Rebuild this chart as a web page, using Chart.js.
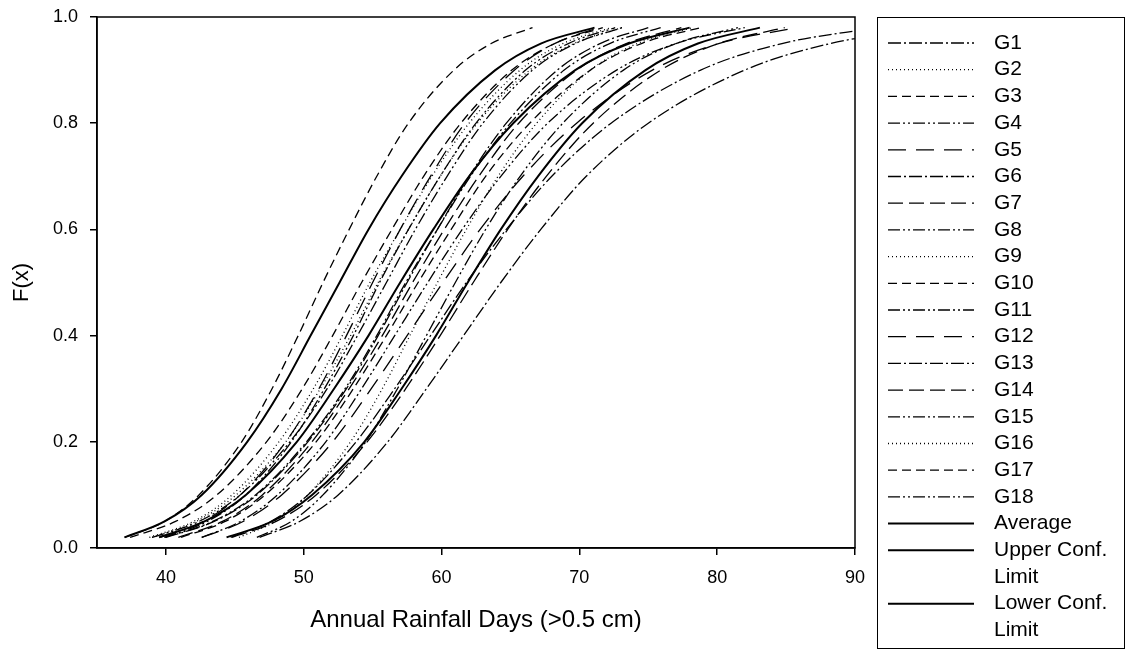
<!DOCTYPE html>
<html>
<head>
<meta charset="utf-8">
<script src="https://cdn.jsdelivr.net/npm/chart.js@4.4.1/dist/chart.umd.min.js"></script>
<style>
  body { margin: 0; background: #fff; }
  #wrap { width: 1126px; height: 652px; }
</style>
</head>
<body>
<div id="wrap"><canvas id="cdfChart"></canvas></div>
<script>
// F(x) levels, shared by every curve
const fLevels = [0.02, 0.05, 0.1, 0.2, 0.3, 0.4, 0.5, 0.6, 0.7, 0.8, 0.9, 0.95, 0.98];

// annual rainfall days at the F(x) levels above
const g1X  = [46.8, 49.7, 52.5, 56.1, 58.9, 61.6, 64.3, 67.2, 70.5, 75.0, 82.0, 88.2, 95.6];
const g2X  = [38.8, 42.0, 44.8, 48.2, 50.7, 52.8, 54.8, 57.0, 59.3, 62.0, 65.7, 68.8, 72.3];
const g3X  = [37.4, 40.7, 43.7, 47.3, 49.9, 52.1, 54.2, 56.4, 58.7, 61.4, 65.1, 68.2, 71.7];
const g4X  = [42.6, 45.4, 48.1, 51.6, 54.2, 56.6, 59.0, 61.5, 64.3, 67.7, 72.7, 77.0, 82.0];
const g5X  = [42.6, 45.6, 48.4, 52.1, 54.9, 57.5, 60.1, 62.8, 65.9, 69.8, 75.3, 80.1, 85.8];
const g6X  = [40.0, 43.5, 46.6, 50.3, 53.1, 55.4, 57.5, 59.7, 62.0, 64.7, 68.4, 71.5, 75.0];
const g7X  = [40.9, 44.1, 47.0, 50.6, 53.3, 55.7, 57.9, 60.2, 62.7, 65.6, 69.8, 73.4, 77.4];
const g8X  = [39.0, 42.4, 45.4, 49.0, 51.7, 53.9, 56.0, 58.1, 60.4, 63.0, 66.6, 69.7, 73.1];
const g9X  = [39.0, 42.2, 45.1, 48.7, 51.2, 53.4, 55.4, 57.6, 59.9, 62.6, 66.4, 69.6, 73.1];
const g10X = [41.1, 44.3, 47.2, 50.9, 53.6, 56.0, 58.3, 60.7, 63.2, 66.4, 70.8, 74.5, 78.8];
const g11X = [39.9, 43.4, 46.5, 50.2, 53.0, 55.3, 57.4, 59.7, 62.1, 65.0, 68.9, 72.2, 75.9];
const g12X = [39.6, 42.7, 45.4, 48.7, 51.1, 53.1, 55.0, 57.0, 59.2, 61.7, 65.3, 68.2, 71.4];
const g13X = [44.7, 47.6, 50.3, 53.8, 56.6, 59.2, 61.8, 64.7, 68.0, 72.3, 78.8, 84.7, 91.6];
const g14X = [44.8, 48.0, 50.9, 54.6, 57.4, 59.9, 62.3, 64.8, 67.6, 71.0, 75.9, 80.1, 84.9];
const g15X = [39.9, 43.0, 45.8, 49.1, 51.5, 53.6, 55.5, 57.6, 59.9, 62.5, 66.1, 69.2, 72.6];
const g16X = [45.3, 47.9, 50.3, 53.4, 55.7, 57.7, 59.7, 61.8, 64.1, 66.9, 70.8, 74.2, 78.2];
const g17X = [37.0, 39.9, 42.4, 45.5, 47.7, 49.6, 51.4, 53.3, 55.3, 57.6, 60.9, 63.6, 66.6];
const g18X = [46.6, 49.1, 51.4, 54.5, 56.8, 58.9, 61.0, 63.2, 65.7, 68.8, 73.2, 77.0, 81.5];
const averageX = [39.5, 42.8, 45.8, 49.5, 52.2, 54.7, 57.0, 59.4, 62.0, 65.2, 69.7, 73.6, 78.0];
const upperX   = [37.0, 39.9, 42.6, 45.9, 48.4, 50.5, 52.6, 54.7, 57.1, 59.9, 63.9, 67.2, 71.1];
const lowerX   = [44.4, 47.7, 50.6, 54.4, 57.1, 59.6, 61.9, 64.3, 67.0, 70.2, 74.8, 78.6, 83.1];

const seriesLabels = ["G1", "G2", "G3", "G4", "G5", "G6", "G7", "G8", "G9", "G10",
  "G11", "G12", "G13", "G14", "G15", "G16", "G17", "G18",
  "Average", ["Upper Conf.", "Limit"], ["Lower Conf.", "Limit"]];
const seriesX = [g1X, g2X, g3X, g4X, g5X, g6X, g7X, g8X, g9X, g10X, g11X, g12X,
  g13X, g14X, g15X, g16X, g17X, g18X, averageX, upperX, lowerX];

const xTicks = [40, 50, 60, 70, 80, 90];
const yTicks = [0.0, 0.2, 0.4, 0.6, 0.8, 1.0];

// line styles
const dashDot = [13, 3, 2, 3];
const dotted = [1, 3];
const shortDash = [9, 5];
const dashDotDot = [12, 3, 2, 3, 2, 3];
const longDash = [18, 10];
const medDash = [15, 6];
const solid = [];
const seriesDash = [dashDot, dotted, shortDash, dashDotDot, longDash, dashDot, medDash,
  dashDotDot, dotted, shortDash, dashDotDot, longDash, dashDot, medDash, dashDotDot,
  dotted, shortDash, dashDotDot, solid, solid, solid];

const datasets = seriesX.map((xs, i) => ({
  label: seriesLabels[i],
  data: xs.map((x, j) => ({ x: x, y: fLevels[j] })),
  borderColor: "#000",
  borderWidth: seriesDash[i].length ? 1.3 : 2,
  borderDash: seriesDash[i],
  pointRadius: 0,
  showLine: true,
  fill: false,
  cubicInterpolationMode: "monotone",
}));

// frame around the plot + the boxed legend on the right
const framePlugin = {
  id: "framePlugin",
  afterDraw(chart) {
    const { ctx, chartArea } = chart;
    ctx.save();
    ctx.strokeStyle = "#000";
    ctx.lineWidth = 1.5;
    ctx.strokeRect(chartArea.left, chartArea.top,
      chartArea.right - chartArea.left, chartArea.bottom - chartArea.top);

    ctx.lineWidth = 1;
    ctx.strokeRect(877.5, 17.5, 247, 631);

    ctx.font = "21px 'Liberation Sans', Arial, sans-serif";
    ctx.fillStyle = "#000";
    ctx.textBaseline = "middle";
    let row = 0;
    chart.data.datasets.forEach((ds) => {
      const y = 43 + row * 26.7;
      ctx.beginPath();
      ctx.setLineDash(ds.borderDash);
      ctx.lineWidth = ds.borderWidth;
      ctx.moveTo(888, y);
      ctx.lineTo(974, y);
      ctx.stroke();
      ctx.setLineDash([]);
      const lines = Array.isArray(ds.label) ? ds.label : [ds.label];
      lines.forEach((t, k) => ctx.fillText(t, 994, y + k * 26.7));
      row += lines.length;
    });
    ctx.restore();
  },
};

const fontFamily = "'Liberation Sans', Arial, sans-serif";
const tickFont = { family: fontFamily, size: 18 };

new Chart(document.getElementById("cdfChart"), {
  type: "scatter",
  data: { datasets: datasets },
  options: {
    responsive: true,
    maintainAspectRatio: false,
    animation: false,
    devicePixelRatio: 1,
    layout: { padding: { left: 0, top: 17, right: 271, bottom: 0 } },
    plugins: { legend: { display: false }, tooltip: { enabled: false } },
    scales: {
      x: {
        type: "linear",
        min: 35,
        max: 90,
        afterBuildTicks: (axis) => { axis.ticks = xTicks.map((v) => ({ value: v })); },
        afterFit: (axis) => { axis.height = 104; },
        ticks: { color: "#000", font: tickFont, padding: 12, maxRotation: 0 },
        grid: { drawOnChartArea: false, drawTicks: true, tickLength: 7, color: "#000", lineWidth: 1.5 },
        border: { display: true, color: "#000", width: 1.5 },
        title: { display: true, text: "Annual Rainfall Days (>0.5 cm)", color: "#000", font: { family: fontFamily, size: 24 }, padding: { top: 0, bottom: 17 } },
      },
      y: {
        min: 0,
        max: 1,
        afterBuildTicks: (axis) => { axis.ticks = yTicks.map((v) => ({ value: v })); },
        afterFit: (axis) => { axis.width = 97; axis.paddingTop = 0; axis.paddingBottom = 0; },
        ticks: { color: "#000", font: tickFont, padding: 12, callback: (v) => v.toFixed(1) },
        grid: { drawOnChartArea: false, drawTicks: true, tickLength: 7, color: "#000", lineWidth: 1.5 },
        border: { display: true, color: "#000", width: 1.5 },
        title: { display: true, text: "F(x)", color: "#000", font: { family: fontFamily, size: 22 }, padding: 9 },
      },
    },
  },
  plugins: [framePlugin],
});
</script>
</body>
</html>
